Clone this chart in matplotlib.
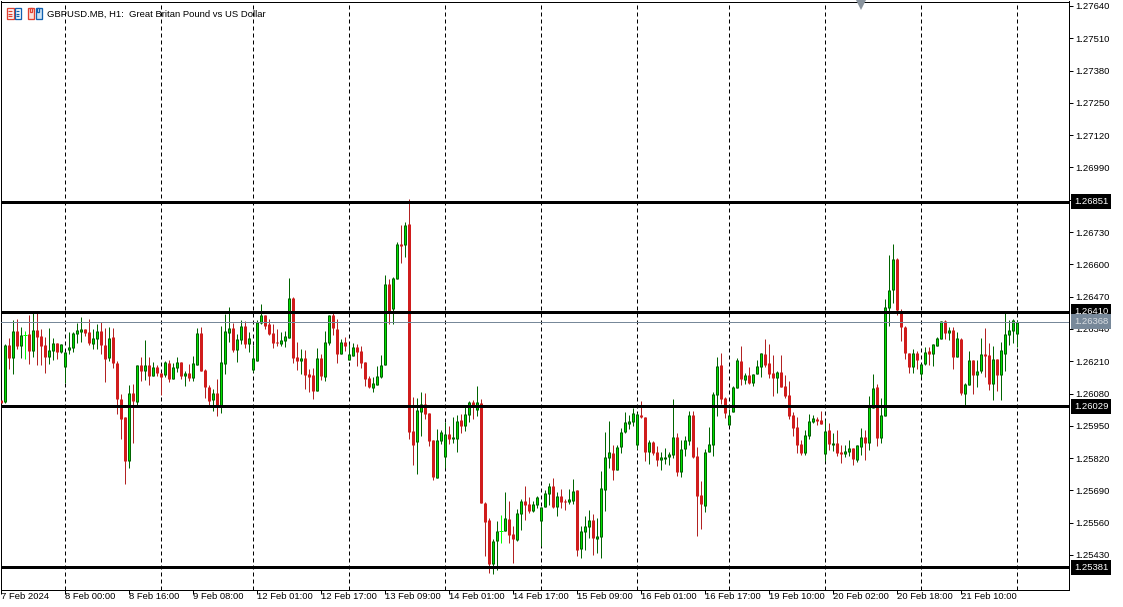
import matplotlib
matplotlib.use('Agg')
import matplotlib.pyplot as plt
from matplotlib.patches import Rectangle
import numpy as np

W, H = 1123, 607

# GBPUSD H1 candles, in points (1e-5)
opens = [126053,
    126046,126277,126224,126331,126272,126314,126319,126252,126335,
    126311,126275,126226,126250,126283,126246,126186,126255,126263,126319,
    126327,126339,126327,126279,126299,126331,126275,126222,126307,126202,
    126057,125985,125808,126081,126045,126194,126170,126194,126150,126186,
    126162,126154,126202,126138,126182,126207,126150,126162,126142,126194,
    126323,126174,126106,126053,126082,126031,126198,126323,126343,126255,
    126295,126351,126279,126174,126211,126364,126396,126360,126323,126287,
    126279,126291,126303,126464,126227,126211,126223,126158,126154,126090,
    126223,126146,126283,126396,126339,126239,126287,126215,126231,126267,
    126251,126207,126142,126102,126114,126146,126194,126521,126420,126541,
    126682,126678,126762,125929,125884,126005,126037,126001,125892,125739,
    125888,125824,125917,125896,125896,125973,125949,125993,126045,126013,
    126042,125639,125571,125393,125486,125525,125526,125575,125514,125490,
    125595,125647,125635,125607,125631,125566,125623,125675,125707,125623,
    125667,125647,125643,125647,125691,125454,125522,125542,125571,125494,
    125502,125691,125820,125840,125772,125864,125925,125957,125965,125873,
    125993,125985,125844,125884,125844,125812,125816,125824,125832,125904,
    125763,125856,125888,125993,125828,125671,125627,125844,125872,126074,
    126194,126061,125953,126005,126102,126210,126134,126154,126122,126158,
    126186,126239,126202,126162,126142,126166,126110,126074,125993,125945,
    125877,125840,125909,125965,125977,125973,125836,125933,125872,125881,
    125844,125836,125844,125860,125812,125866,125905,125881,126021,126106,
    125901,125989,126424,126497,126621,126404,126348,126243,126187,126243,
    126158,126197,126250,126238,126271,126299,126371,126323,126335,126226,
    126299,126077,126114,126214,126154,126170,126238,126234,126118,126218,
    126154,126238,126315,126331,126319]
highs = [126053,
    126281,126302,126375,126379,126346,126331,126395,126409,126405,
    126339,126308,126343,126304,126283,126281,126246,126327,126327,126363,
    126387,126339,126379,126339,126359,126367,126343,126347,126343,126210,
    126077,125985,126114,126118,126194,126226,126295,126226,126206,126194,
    126162,126210,126215,126202,126227,126207,126170,126198,126231,126343,
    126347,126178,126114,126098,126138,126351,126400,126428,126364,126319,
    126376,126372,126327,126275,126376,126440,126396,126380,126360,126339,
    126327,126331,126545,126468,126287,126259,126255,126178,126182,126263,
    126239,126331,126396,126404,126380,126299,126307,126279,126283,126279,
    126271,126207,126150,126146,126190,126235,126557,126541,126549,126690,
    126758,126770,126863,126066,126062,126086,126082,126001,125892,125937,
    125933,125965,125949,125985,125993,125997,126025,126049,126053,126110,
    126058,125643,125579,125494,125566,125591,125683,125647,125546,125615,
    125655,125707,125663,125647,125667,125623,125691,125719,125740,125683,
    125695,125655,125695,125736,125691,125546,125587,125611,125595,125579,
    125768,125925,125969,125873,125873,125941,126005,125993,126022,126001,
    126049,125985,125892,125888,125868,125844,125860,125844,126057,125920,
    125892,125908,126009,126009,125864,125727,125856,125945,126086,126227,
    126243,126065,126017,126110,126223,126271,126162,126186,126158,126214,
    126243,126299,126279,126235,126170,126235,126154,126130,126005,125985,
    125893,125933,125997,125993,125985,126009,125973,125961,125921,125933,
    125872,125872,125893,125860,125872,125941,125933,126070,126158,126118,
    126062,126460,126638,126682,126626,126420,126352,126243,126259,126251,
    126198,126267,126267,126279,126307,126371,126375,126347,126347,126327,
    126303,126122,126250,126214,126214,126303,126343,126283,126271,126218,
    126287,126404,126375,126379,126375]
lows = [126043,
    126042,126178,126158,126259,126222,126218,126198,126226,126194,
    126194,126162,126198,126214,126218,126242,126122,126238,126246,126283,
    126287,126311,126275,126259,126259,126238,126126,126210,126182,125997,
    125896,125715,125779,125880,126029,126130,126134,126114,126150,126150,
    126073,126146,126126,126138,126166,126138,126110,126130,126130,126194,
    126170,126062,126029,126009,125989,126001,126158,126287,126247,126207,
    126279,126263,126247,126166,126211,126360,126339,126315,126263,126271,
    126271,126267,126303,126202,126174,126158,126098,126086,126058,126090,
    126134,126130,126275,126315,126204,126239,126251,126215,126231,126190,
    126182,126110,126102,126086,126114,126142,126194,126360,126360,126541,
    126605,126629,125896,125792,125755,125909,125977,125868,125731,125739,
    125876,125780,125876,125880,125844,125921,125929,125965,125977,125989,
    125639,125426,125357,125353,125369,125478,125526,125478,125397,125486,
    125530,125571,125599,125603,125619,125466,125623,125631,125619,125587,
    125619,125611,125635,125635,125426,125417,125450,125498,125430,125438,
    125417,125607,125780,125732,125772,125840,125921,125937,125949,125856,
    125981,125808,125796,125832,125788,125772,125796,125792,125820,125747,
    125743,125828,125872,125820,125506,125534,125602,125844,125828,125989,
    126037,125981,125953,126005,126102,126114,126118,126118,126110,126158,
    126146,126186,126142,126069,126082,126106,126061,125977,125908,125840,
    125832,125832,125897,125961,125953,125957,125808,125852,125848,125828,
    125800,125824,125828,125792,125804,125832,125812,125852,126021,125868,
    125881,125989,126352,126444,126396,126291,126219,126162,126162,126179,
    126146,126194,126194,126190,126271,126299,126299,126295,126178,126226,
    126073,126033,126114,126077,126106,126162,126146,126093,126053,126089,
    126053,126170,126275,126283,126267]
closes = [126043,
    126277,126224,126331,126272,126315,126314,126252,126335,126308,
    126272,126226,126255,126283,126246,126279,126246,126267,126323,126335,
    126339,126323,126283,126303,126331,126275,126218,126303,126202,126057,
    125977,125808,126081,126049,126194,126170,126194,126150,126186,126162,
    126146,126208,126138,126186,126207,126150,126162,126142,126202,126323,
    126170,126106,126049,126082,126031,126207,126331,126343,126255,126299,
    126351,126279,126303,126223,126368,126396,126351,126319,126283,126284,
    126295,126311,126464,126223,126211,126223,126154,126146,126090,126223,
    126150,126287,126396,126343,126239,126287,126271,126239,126267,126247,
    126202,126138,126106,126122,126150,126194,126521,126412,126545,126682,
    126674,126758,125925,125872,126013,126037,125997,125888,125743,125892,
    125925,125917,125896,125905,125969,125949,125997,126045,126033,126045,
    125639,125562,125393,125486,125526,125525,125579,125510,125494,125599,
    125647,125631,125607,125635,125663,125623,125679,125707,125623,125667,
    125643,125644,125655,125687,125450,125526,125546,125571,125498,125506,
    125699,125824,125844,125772,125864,125925,125965,125969,126001,125997,
    125985,125844,125884,125840,125812,125824,125824,125836,125904,125763,
    125856,125892,125993,125824,125667,125635,125844,125876,126078,126190,
    126057,126001,125993,126106,126214,126138,126154,126122,126158,126190,
    126243,126194,126158,126142,126166,126106,126069,125989,125941,125872,
    125840,125913,125969,125981,125969,125957,125929,125877,125881,125840,
    125836,125848,125860,125816,125872,125905,125881,126026,126102,125901,
    125993,126428,126497,126621,126416,126348,126243,126187,126243,126215,
    126198,126246,126238,126279,126303,126371,126323,126335,126226,126303,
    126081,126118,126214,126154,126170,126238,126230,126118,126218,126154,
    126255,126319,126335,126375,126368]

price_ticks = [1.27640, 1.27510, 1.27380, 1.27250, 1.27120, 1.26990, 1.26860, 1.26730, 1.26600,
               1.26470, 1.26340, 1.26210, 1.26080, 1.25950, 1.25820, 1.25690, 1.25560, 1.25430]
levels = [1.26851, 1.26410, 1.26029, 1.25381]
last_price = 1.26368

date_ticks = [0, 16, 32, 48, 64, 80, 96, 112, 128, 144, 160, 176, 192, 208, 224, 240]
date_labels = ['7 Feb 2024', '8 Feb 00:00', '8 Feb 16:00', '9 Feb 08:00', '12 Feb 01:00', '12 Feb 17:00',
               '13 Feb 09:00', '14 Feb 01:00', '14 Feb 17:00', '15 Feb 09:00', '16 Feb 01:00', '16 Feb 17:00',
               '19 Feb 10:00', '20 Feb 02:00', '20 Feb 18:00', '21 Feb 10:00']
day_separators = [16, 40, 63, 87, 111, 135, 159, 182, 206, 230, 254]

plt.rcParams['font.family'] = ['Liberation Sans', 'DejaVu Sans']
px = 72 / 100  # one pixel in points
pip = 4.03e-5  # one pixel in price

fig = plt.figure(figsize=(W / 100, H / 100), dpi=100)
ax = fig.add_axes([1.0 / W, (H - 589.5) / H, 1068 / W, 588 / H])

o = np.array(opens) / 1e5
h = np.array(highs) / 1e5
l = np.array(lows) / 1e5
c = np.array(closes) / 1e5
idx = np.arange(len(o))
up = c > o
down = c < o
doji = c == o

ax.vlines(day_separators, 0, 1, transform=ax.get_xaxis_transform(), color='black',
          lw=px, linestyles=(0, (4, 3)), zorder=1)

ax.vlines(idx[up], l[up], h[up], color='#006400', lw=px, zorder=2)
ax.vlines(idx[down], l[down], h[down], color='#b22222', lw=px, zorder=2)
ax.vlines(idx[doji], l[doji], h[doji], color='#00ff00', lw=px, zorder=2)
ax.hlines(c[doji], idx[doji] - 0.5, idx[doji] + 0.5, color='#00ff00', lw=px, zorder=2)

# candle bodies: 3 px wide, up candles have a dark outline and a 1 px bright core
ax.vlines(idx[up], o[up], c[up], color='#006400', lw=3 * px, zorder=3)
core = up & (c - o > 2 * pip)
ax.vlines(idx[core], o[core] + pip, c[core] - pip, color='#00e000', lw=px, zorder=3.5)
ax.vlines(idx[down], c[down], o[down], color='#d01c1c', lw=3 * px, zorder=3)

ax.axhline(last_price, color='#778899', lw=px, zorder=4)
for lev in levels:
    ax.axhline(lev, color='black', lw=3 * px, zorder=5)

# boxes over the price scale
for lev in levels:
    ax.text(1.0045, lev, '%.5f' % lev, transform=ax.get_yaxis_transform(), color='white', fontsize=6.8,
            va='center', ha='left', bbox=dict(boxstyle='square,pad=0.32', fc='black', ec='black', lw=0),
            zorder=6, clip_on=False)
ax.text(1.0045, last_price, '%.5f' % last_price, transform=ax.get_yaxis_transform(), color='#d8dde2', fontsize=6.8,
        va='center', ha='left', bbox=dict(boxstyle='square,pad=0.32', fc='#778899', ec='#778899', lw=0),
        zorder=6, clip_on=False)

ax.set_xlim(0, 267)
ax.set_ylim(1.25291, 1.27658)
ax.yaxis.tick_right()
ax.set_yticks(price_ticks)
ax.set_yticklabels(['%.5f' % p for p in price_ticks], fontsize=6.8)
ax.set_xticks(date_ticks)
ax.set_xticklabels(date_labels, fontsize=6.8, ha='left')
ax.tick_params(axis='y', length=4 * px, width=px, pad=1.5)
ax.tick_params(axis='x', length=4 * px, width=px, pad=-1.2)
for s in ax.spines.values():
    s.set_linewidth(px)

ax.plot([215], [0.9945], marker='v', ms=7, mew=0, color='#8a949e', transform=ax.get_xaxis_transform(),
        clip_on=False, zorder=6)

fig.text(47 / W, 1 - 14 / H, 'GBPUSD.MB, H1:  Great Britan Pound vs US Dollar', fontsize=6.8, va='center', ha='left')

# the two small toolbar icons, in pixels
def box(x0, y0, w, h, ec, fc='none'):
    fig.add_artist(Rectangle((x0 / W, 1 - (y0 + h) / H), w / W, h / H, transform=fig.transFigure,
                             ec=ec, fc=fc, lw=1.3 * px))

box(6.5, 8.5, 7, 10, '#e04030')
box(14.5, 8.5, 6, 10, '#1060b0')
for yy in (11, 13.5, 16):
    box(8, yy, 4, 0.3, '#e04030')
    box(16, yy, 3, 0.3, '#1060b0')
box(27.5, 8.5, 6, 10, '#e04030', '#fbe0da')
box(35.5, 8.5, 6, 10, '#1060b0', '#cfe4f5')
box(30, 8.5, 2, 3, '#e04030', 'white')
box(37, 8.5, 2, 3, '#1060b0', 'white')

fig.savefig('out.png', dpi=100)
